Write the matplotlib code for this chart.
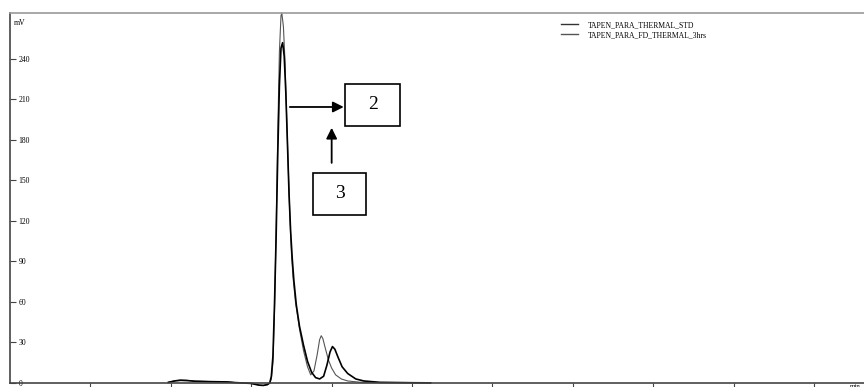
import matplotlib
matplotlib.use('Agg')
import matplotlib.pyplot as plt
from matplotlib.patches import Rectangle
from matplotlib.lines import Line2D

plt.rcParams['font.family'] = ['Liberation Serif', 'DejaVu Serif']

# chromatogram traces (time in min, signal in mV)
std_time = [1.97, 2.05, 2.12, 2.20, 2.30, 2.50, 2.70, 2.80, 2.90, 3.00, 3.05, 3.10,
            3.15, 3.20, 3.23, 3.25, 3.27, 3.29, 3.31, 3.33, 3.35, 3.37, 3.39, 3.41,
            3.43, 3.45, 3.47, 3.49, 3.51, 3.53, 3.56, 3.60, 3.65, 3.70, 3.75, 3.80,
            3.85, 3.90, 3.94, 3.98, 4.01, 4.04, 4.08, 4.13, 4.20, 4.30, 4.40, 4.60,
            5.00, 5.23]
std_mv = [0.5, 1.5, 2.0, 1.8, 1.3, 1.0, 0.8, 0.3, 0.0, -0.3, -1.0, -1.6,
          -1.8, -1.2, 0.0, 5, 20, 60, 110, 170, 220, 248, 252, 242,
          215, 178, 140, 112, 92, 76, 58, 42, 28, 16, 8, 4,
          3, 5, 13, 23, 27, 25, 19, 12, 7, 3, 1.5, 0.5,
          0.2, 0.1]

fd_time = [1.97, 2.05, 2.12, 2.20, 2.30, 2.50, 2.70, 2.80, 2.90, 3.00, 3.05, 3.10,
           3.15, 3.20, 3.23, 3.25, 3.27, 3.29, 3.31, 3.33, 3.35, 3.37, 3.38, 3.40,
           3.42, 3.44, 3.46, 3.48, 3.50, 3.52, 3.55, 3.60, 3.65, 3.70, 3.74, 3.78,
           3.82, 3.85, 3.87, 3.89, 3.92, 3.96, 4.00, 4.05, 4.12, 4.20, 4.35, 4.60,
           5.00, 5.23]
fd_mv = [0.5, 1.8, 2.2, 2.0, 1.4, 1.0, 0.8, 0.3, 0.0, -0.3, -1.0, -1.6,
         -1.8, -1.2, 0.0, 3, 15, 55, 115, 185, 245, 272, 274, 264,
         238, 198, 160, 124, 96, 78, 60, 40, 24, 12, 6, 9,
         21, 32, 35, 33, 26, 17, 11, 6, 3, 1.5, 0.6, 0.3,
         0.2, 0.1]

series_names = ['TAPEN_PARA_THERMAL_STD', 'TAPEN_PARA_FD_THERMAL_3hrs']
y_ticks = [0, 30, 60, 90, 120, 150, 180, 210, 240]
x_ticks = [1, 2, 3, 4, 5, 6, 7, 8, 9, 10]

fig = plt.figure(figsize=(8.64, 3.87), dpi=100)
ax = fig.add_axes([10 / 864, 4 / 387, 854 / 864, 370 / 387])

ax.plot(fd_time, fd_mv, color='#555555', lw=0.8, clip_on=False)
ax.plot(std_time, std_mv, color='black', lw=1.2, clip_on=False)

ax.set_xlim(0, 10.62)
ax.set_ylim(0, 274)

# axes styling
ax.spines['right'].set_visible(False)
ax.spines['top'].set_color('#9a9a9a')
ax.spines['left'].set_color('#444444')
ax.spines['bottom'].set_color('#444444')
for s in ('top', 'left', 'bottom'):
    ax.spines[s].set_linewidth(1.2)

ax.set_yticks(y_ticks)
ax.set_yticklabels([str(v) for v in y_ticks])
ax.tick_params(axis='y', direction='in', length=4, width=0.8, color='#444444',
               labelsize=5.5, pad=-6)
for lab in ax.get_yticklabels():
    lab.set_horizontalalignment('left')

ax.set_xticks(x_ticks)
ax.set_xticklabels([str(v) for v in x_ticks])
ax.tick_params(axis='x', direction='out', length=4, width=0.8, color='#444444',
               labelsize=5, pad=0.5)

ax.text(0.005, 0.985, 'mV', transform=ax.transAxes, fontsize=5.5, va='top', ha='left')
ax.text(0.996, -0.002, 'min', transform=ax.transAxes, fontsize=5, va='top', ha='right')

# legend
handles = [Line2D([], [], color='#333333', lw=1.0),
           Line2D([], [], color='#555555', lw=1.0)]
fig.legend(handles, series_names, loc='upper left',
           bbox_to_anchor=(561 / 864, 1 - 21 / 387), frameon=False,
           fontsize=5.5, handlelength=2.2, handletextpad=1.3,
           labelspacing=0.25, borderpad=0, borderaxespad=0)

# annotation boxes with arrows
ax.add_patch(Rectangle((4.17, 190.4), 0.68, 31.1, fill=False, lw=1.2, color='black'))
ax.text(4.51, 206, '2', fontsize=14, ha='center', va='center')
ax.add_patch(Rectangle((3.77, 124.4), 0.66, 31.2, fill=False, lw=1.2, color='black'))
ax.text(4.10, 140, '3', fontsize=14, ha='center', va='center')

arrow = dict(arrowstyle='-|>', mutation_scale=16, lw=1.3, color='black',
             shrinkA=0, shrinkB=0)
ax.annotate('', xy=(4.15, 204.4), xytext=(3.48, 204.4), arrowprops=arrow)
ax.annotate('', xy=(4.00, 189.0), xytext=(4.00, 163.0), arrowprops=arrow)

fig.savefig('out.png', dpi=100)
